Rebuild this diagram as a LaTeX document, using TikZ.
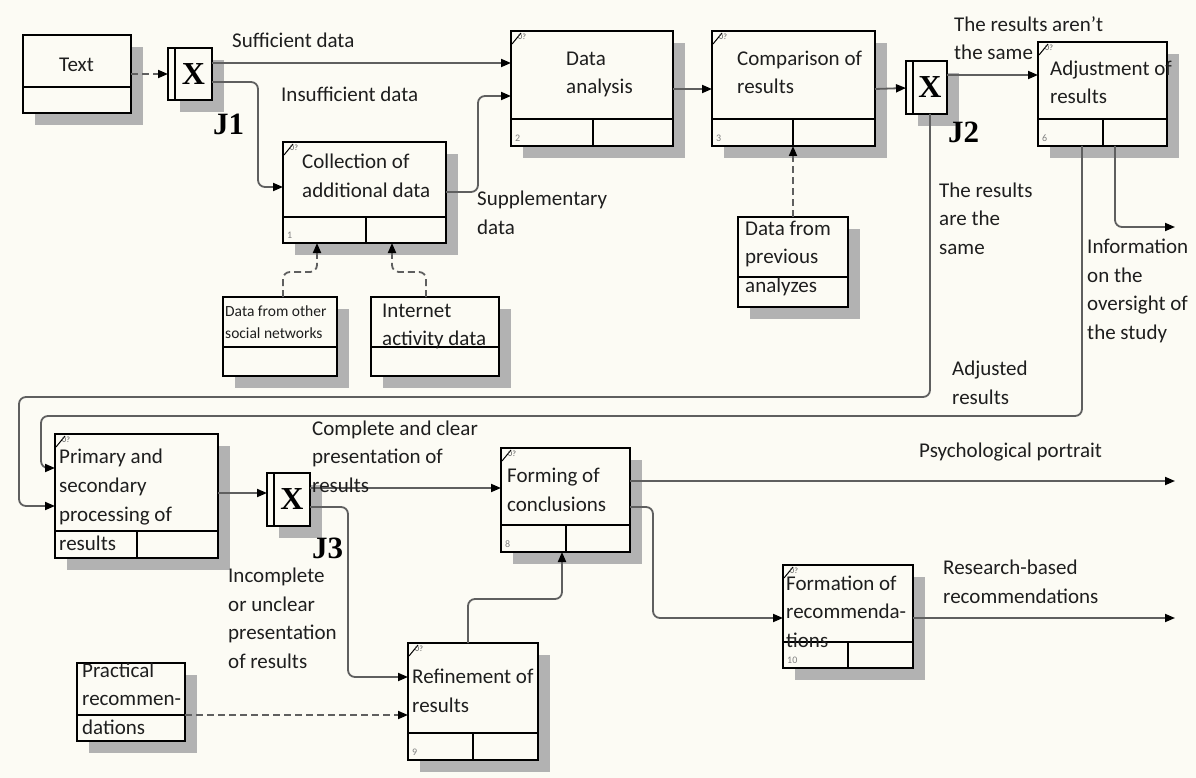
\documentclass[tikz,border=0pt]{standalone}
\usepackage{fontspec}
\setmainfont{Carlito}
\newfontfamily\serifj{Liberation Serif}
\usetikzlibrary{arrows.meta,shadows,calc}
\definecolor{bgc}{RGB}{252,251,244}
\definecolor{wirec}{RGB}{95,95,95}
\definecolor{ink}{RGB}{30,30,30}
\definecolor{shc}{RGB}{178,178,178}

% process block: name, x, y, width, height, bottom strip height, strip divider offset, number
\newcommand{\procbox}[8]{%
  \node[box, minimum width=#4pt, minimum height=#5pt] (#1) at (#2,#3) {};
  \draw[boxline] ([yshift=#6pt]#1.south west) -- ([yshift=#6pt]#1.south east);
  \draw[boxline] ([xshift=#7pt]#1.south west) -- ([xshift=#7pt,yshift=#6pt]#1.south west);
  \node[idx] (#1-no) at ([xshift=4pt,yshift=4pt]#1.south west) {#8};
  \draw[black, line width=1pt] ([xshift=1pt,yshift=-13pt]#1.north west) -- ([xshift=10pt,yshift=-2pt]#1.north west);
  \node[tagmark] (#1-tag) at ([xshift=7pt,yshift=-3pt]#1.north west) {0?};
}
% data block: name, x, y, width, height, bottom strip height
\newcommand{\databox}[6]{%
  \node[box, minimum width=#4pt, minimum height=#5pt] (#1) at (#2,#3) {};
  \draw[boxline] ([yshift=#6pt]#1.south west) -- ([yshift=#6pt]#1.south east);
}
% junction: name, x, y, width, height
\newcommand{\junction}[5]{%
  \node[box, minimum width=#4pt, minimum height=#5pt] (#1) at (#2,#3) {};
  \draw[boxline, line width=1.6pt] ([xshift=7pt]#1.north west) -- ([xshift=7pt]#1.south west);
  \node[jx] (#1-x) at ([xshift=3.5pt]#1.center) {X};
}

\begin{document}
\begin{tikzpicture}[x=1pt,y=-1pt,
  % texts are placed by the baseline of their last line
  lbl/.style={anchor=base west, inner sep=0pt, align=left, text=ink, font=\fontsize{21}{28.5}\selectfont},
  box/.style={draw=black, line width=2.2pt, fill=bgc, anchor=north west, inner sep=0pt, outer sep=0pt,
    drop shadow={shadow xshift=12pt, shadow yshift=-12pt, fill=shc, opacity=1}},
  boxline/.style={draw=black, line width=2.2pt},
  wire/.style={draw=wirec, line width=1.8pt, rounded corners=7pt, -{Triangle[length=10pt,width=8pt,color=black]}},
  dwire/.style={wire, dash pattern=on 7pt off 4pt},
  idx/.style={anchor=south west, inner sep=0pt, text=gray, font=\fontsize{10}{10}\selectfont},
  tagmark/.style={anchor=north west, inner sep=0pt, text=black!70, font=\fontsize{8}{8}\selectfont},
  jx/.style={inner sep=0pt, font=\serifj\bfseries\fontsize{32}{32}\selectfont},
  jl/.style={anchor=base west, inner sep=0pt, font=\serifj\bfseries\fontsize{31}{31}\selectfont},
]
\fill[bgc] (0,0) rectangle (1196,778);
\useasboundingbox (0,0) rectangle (1196,778);

% ---- blocks ----
\databox{txt}{23}{35}{108}{78}{26}
\junction{j1}{168}{48}{44}{52}
\procbox{coll}{283}{142}{163}{101}{26}{83}{1}
\procbox{da}{511}{31}{162}{115}{27}{82}{2}
\procbox{comp}{712}{31}{163}{115}{27}{81}{3}
\databox{prev}{738}{217}{110}{90}{30}
\junction{j2}{906}{61}{41}{53}
\procbox{adj}{1038}{42}{129}{104}{27}{65}{6}
\databox{soc}{223}{297}{114}{79}{29}
\databox{inet}{371}{297}{128}{79}{29}
\procbox{prim}{55}{434}{163}{124}{27}{82}{}
\junction{j3}{267}{473}{43}{53}
\databox{prac}{77}{663}{108}{78}{26}
\procbox{ref}{408}{643}{130}{117}{27}{65}{9}
\procbox{form}{501}{448}{129}{104}{27}{65}{8}
\procbox{fmn}{783}{565}{130}{103}{26}{65}{10}

% ---- junction labels ----
\node[jl] (j1-l) at (213,135) {J1};
\node[jl] (j2-l) at (948,143) {J2};
\node[jl] (j3-l) at (312,558) {J3};

% ---- free ends of outputs ----
\coordinate (infoEnd) at (1175,227);
\coordinate (psyEnd) at (1175,481);
\coordinate (resEnd) at (1175,618);
\coordinate (loopOut) at (19,397);
\coordinate (loopIn) at (41,416);

% ---- connectors ----
\draw[dwire] (txt.east) -- (j1.west);
\draw[wire] ([yshift=-15pt]j1.north east) -- ([yshift=-32pt]da.north west);
\draw[wire] ([yshift=-34pt]j1.north east) -| ([xshift=-25pt,yshift=-45pt]coll.north west) -- ([yshift=-45pt]coll.north west);
\draw[wire] ([yshift=-50pt]coll.north east) -- ++(32,0) |- ([yshift=-65pt]da.north west);
\draw[wire] ([yshift=-58pt]da.north east) -- ([yshift=-58pt]comp.north west);
\draw[wire] ([yshift=-58pt]comp.north east) -- ([yshift=-27pt]j2.north west);
\draw[wire] ([yshift=-14pt]j2.north east) -- ([yshift=-33pt]adj.north west);
\draw[dwire] (prev.north) -- ([xshift=81pt]comp.south west);
\draw[dwire] ([xshift=60pt]soc.north west) |- ([xshift=34pt,yshift=-29pt]coll.south west) -- ([xshift=34pt]coll.south west);
\draw[dwire] ([xshift=55pt]inet.north west) |- ([xshift=109pt,yshift=-29pt]coll.south west) -- ([xshift=109pt]coll.south west);
\draw[wire] ([xshift=24pt]j2.south west) |- (loopOut) |- ([yshift=-72pt]prim.north west);
\draw[wire] ([xshift=44pt]adj.south west) |- (loopIn) |- ([yshift=-34pt]prim.north west);
\draw[wire] ([xshift=77pt]adj.south west) |- (infoEnd);
\draw[wire] ([yshift=-59pt]prim.north east) -- ([yshift=-20pt]j3.north west);
\draw[wire] ([yshift=-15pt]j3.north east) -- ([yshift=-40pt]form.north west);
\draw[wire] ([yshift=-34pt]j3.north east) -- ++(38,0) |- ([yshift=-34pt]ref.north west);
\draw[dwire] ([yshift=26pt]prac.south east) -- ([yshift=45pt]ref.south west);
\draw[wire] ([xshift=60pt]ref.north west) -- ++(0,-44) -| ([xshift=61pt]form.south west);
\draw[wire] ([yshift=-33pt]form.north east) -- (psyEnd);
\draw[wire] ([yshift=-59pt]form.north east) -- ++(23,0) |- ([yshift=-53pt]fmn.north west);
\draw[wire] ([yshift=-53pt]fmn.north east) -- (resEnd);

% ---- block texts ----
\node[lbl] (t-text) at (59,72) {Text};
\node[lbl] (t-coll) at (302,197) {Collection of\\additional data};
\node[lbl] (t-da) at (566,94) {Data\\analysis};
\node[lbl] (t-comp) at (737,94) {Comparison of\\results};
\node[lbl] (t-prev) at (745,292) {Data from\\previous\\analyzes};
\node[lbl] (t-adj) at (1050,104) {Adjustment of\\results};
\node[lbl, font=\fontsize{15.5}{22}\selectfont] (t-soc) at (225,338) {Data from other\\social networks};
\node[lbl, font=\fontsize{21}{28}\selectfont] (t-int) at (382,345) {Internet\\activity data};
\node[lbl, font=\fontsize{21}{29}\selectfont] (t-prim) at (59,550) {Primary and\\secondary\\processing of\\results};
\node[lbl] (t-prac) at (82,734) {Practical\\recommen-\\dations};
\node[lbl] (t-ref) at (412,712) {Refinement of\\results};
\node[lbl] (t-form) at (507,511) {Forming of\\conclusions};
\node[lbl] (t-fmn) at (786,647) {Formation of\\recommenda-\\tions};

% ---- connector labels ----
\node[lbl] (l-suff) at (232,48) {Sufficient data};
\node[lbl] (l-insuff) at (281,102) {Insufficient data};
\node[lbl] (l-supp) at (477,234) {Supplementary\\data};
\node[lbl] (l-notsame) at (954,60) {The results aren{\char"0027}t\\the same};
\node[lbl] (l-same) at (939,254) {The results\\are the\\same};
\node[lbl] (l-info) at (1087,339) {Information\\on the\\oversight of\\the study};
\node[lbl] (l-adjres) at (952,404) {Adjusted\\results};
\node[lbl] (l-compl) at (312,492) {Complete and clear\\presentation of\\results};
\node[lbl] (l-incompl) at (228,668) {Incomplete\\or unclear\\presentation\\of results};
\node[lbl] (l-psy) at (919,457) {Psychological portrait};
\node[lbl] (l-res) at (943,603) {Research-based\\recommendations};
\end{tikzpicture}
\end{document}
